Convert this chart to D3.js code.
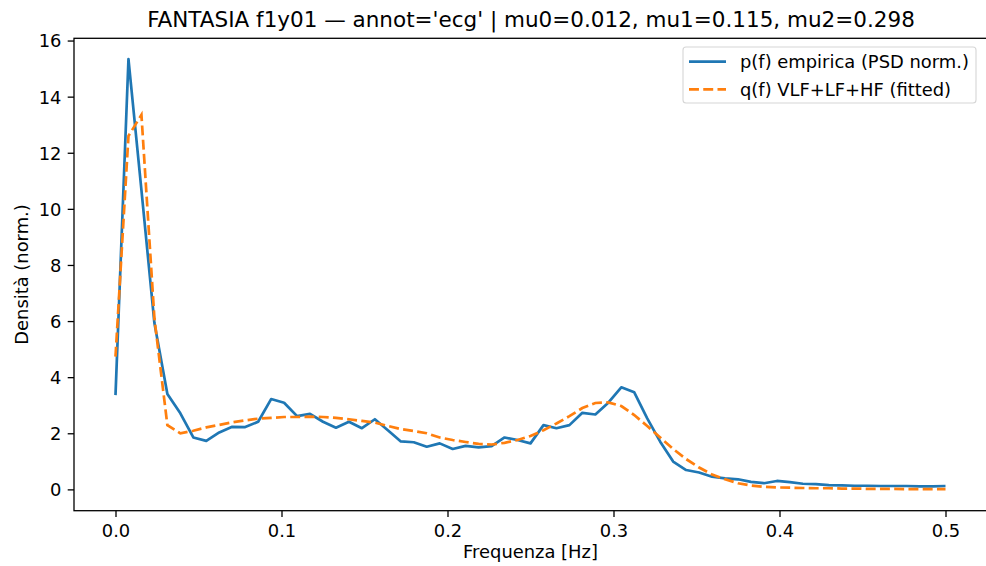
<!DOCTYPE html>
<html>
<head>
<meta charset="utf-8">
<script src="https://cdn.jsdelivr.net/npm/d3@7/dist/d3.min.js"></script>
<style>
  body { margin: 0; background: #fff; }
  svg { display: block; font-family: "DejaVu Sans", sans-serif; }
</style>
</head>
<body>
<div id="chart"></div>
<script>
// frequency bins: 65 bins, step 1/128 Hz
var nBins = 65;
var freqStep = 1 / 128;

var empirical = [3.36, 15.34, 10.67, 5.93, 3.40, 2.71, 1.85, 1.73, 2.03, 2.23,
  2.22, 2.41, 3.22, 3.09, 2.61, 2.69, 2.41, 2.20, 2.41, 2.18,
  2.50, 2.11, 1.71, 1.68, 1.52, 1.64, 1.44, 1.55, 1.50, 1.54,
  1.85, 1.76, 1.64, 2.29, 2.18, 2.29, 2.73, 2.67, 3.09, 3.64,
  3.46, 2.53, 1.70, 0.99, 0.69, 0.60, 0.45, 0.39, 0.36, 0.27,
  0.22, 0.30, 0.26, 0.20, 0.19, 0.15, 0.14, 0.13, 0.13, 0.12,
  0.12, 0.12, 0.11, 0.11, 0.12];

// q(f) VLF+LF+HF fitted
var fitted = [4.73, 12.60, 13.35, 6.10, 2.29, 2.00, 2.09, 2.21, 2.30, 2.39,
  2.46, 2.52, 2.55, 2.58, 2.58, 2.59, 2.58, 2.55, 2.50, 2.44,
  2.38, 2.26, 2.15, 2.08, 2.00, 1.85, 1.76, 1.69, 1.62, 1.60,
  1.66, 1.76, 1.90, 2.11, 2.35, 2.61, 2.90, 3.08, 3.10, 2.97,
  2.65, 2.26, 1.85, 1.44, 1.08, 0.78, 0.53, 0.36, 0.22, 0.14,
  0.09, 0.07, 0.06, 0.05, 0.04, 0.04, 0.03, 0.03, 0.02, 0.02,
  0.02, 0.01, 0.01, 0.01, 0.01];

var xTicks = [0, 0.1, 0.2, 0.3, 0.4, 0.5];
var yTicks = [0, 2, 4, 6, 8, 10, 12, 14, 16];

var seriesNames = ["p(f) empirica (PSD norm.)", "q(f) VLF+LF+HF (fitted)"];
var titleText = "FANTASIA f1y01 \u2014 annot='ecg' | mu0=0.012, mu1=0.115, mu2=0.298";

var W = 986, H = 566;
var pLeft = 74, pRight = 987, pTop = 38.3, pBottom = 510.7;
var fs = 17.9;   // 10pt text
var tick = 6.3;  // tick length / pad
var dash = "9.95,4.3";

var freqs = d3.range(nBins).map(function(i) { return i * freqStep; });

var x = d3.scaleLinear().domain([-0.025, 0.525]).range([pLeft, pRight]);
var y = d3.scaleLinear().domain([-0.76, 16.08]).range([pBottom, pTop]);

var svg = d3.select("#chart").append("svg")
  .attr("width", W).attr("height", H);

svg.append("defs").append("clipPath").attr("id", "plotclip")
  .append("rect")
  .attr("x", pLeft).attr("y", pTop)
  .attr("width", pRight - pLeft).attr("height", pBottom - pTop);

// axes
var xAxis = d3.axisBottom(x).tickValues(xTicks).tickFormat(d3.format(".1f"))
  .tickSize(tick).tickPadding(tick);
var yAxis = d3.axisLeft(y).tickValues(yTicks).tickFormat(d3.format("d"))
  .tickSize(tick).tickPadding(tick);

var gx = svg.append("g").attr("transform", "translate(0," + pBottom + ")").call(xAxis);
var gy = svg.append("g").attr("transform", "translate(" + pLeft + ",0)").call(yAxis);

[gx, gy].forEach(function(g) {
  g.select(".domain").remove();
  g.selectAll(".tick line").attr("stroke", "#000").attr("stroke-width", 1.3);
  g.selectAll(".tick text").attr("fill", "#000")
    .style("font-size", fs + "px").style("font-family", "DejaVu Sans");
});
gx.selectAll(".tick text").attr("dy", "0.76em");
gy.selectAll(".tick text").attr("dy", "0.36em");

// lines
var line = function(vals) {
  return d3.line()
    .x(function(d, i) { return x(freqs[i]); })
    .y(function(d) { return y(d); })(vals);
};

var plot = svg.append("g").attr("clip-path", "url(#plotclip)");

plot.append("path")
  .attr("d", line(empirical))
  .attr("fill", "none")
  .attr("stroke", "#1f77b4")
  .attr("stroke-width", 2.7)
  .attr("stroke-linejoin", "round");

plot.append("path")
  .attr("d", line(fitted))
  .attr("fill", "none")
  .attr("stroke", "#ff7f0e")
  .attr("stroke-width", 2.7)
  .attr("stroke-dasharray", dash);

// frame
svg.append("rect")
  .attr("x", pLeft).attr("y", pTop)
  .attr("width", pRight - pLeft).attr("height", pBottom - pTop)
  .attr("fill", "none").attr("stroke", "#000").attr("stroke-width", 1.3);

// title + labels
svg.append("text")
  .attr("x", 531).attr("y", 27)
  .attr("text-anchor", "middle")
  .style("font-size", "21.5px")
  .text(titleText);

svg.append("text")
  .attr("x", (x(0) + x(0.5)) / 2).attr("y", 558)
  .attr("text-anchor", "middle")
  .style("font-size", fs + "px")
  .text("Frequenza [Hz]");

svg.append("text")
  .attr("transform", "translate(28," + ((pTop + pBottom) / 2) + ") rotate(-90)")
  .attr("text-anchor", "middle")
  .style("font-size", fs + "px")
  .text("Densit\u00e0 (norm.)");

// legend
var lg = svg.append("g");
lg.append("rect")
  .attr("x", 683).attr("y", 47).attr("width", 293).attr("height", 56)
  .attr("rx", 3)
  .attr("fill", "#fff").attr("fill-opacity", 0.8)
  .attr("stroke", "#d6d6d6").attr("stroke-width", 1.1);

var legColors = ["#1f77b4", "#ff7f0e"];
var legDash = [null, dash];
seriesNames.forEach(function(name, i) {
  var ly = 61.7 + i * 27.6;
  lg.append("line")
    .attr("x1", 689).attr("x2", 726)
    .attr("y1", ly).attr("y2", ly)
    .attr("stroke", legColors[i]).attr("stroke-width", 2.7)
    .attr("stroke-dasharray", legDash[i]);
  lg.append("text")
    .attr("x", 740).attr("y", ly + 6.5)
    .style("font-size", fs + "px")
    .text(name);
});
</script>
</body>
</html>
